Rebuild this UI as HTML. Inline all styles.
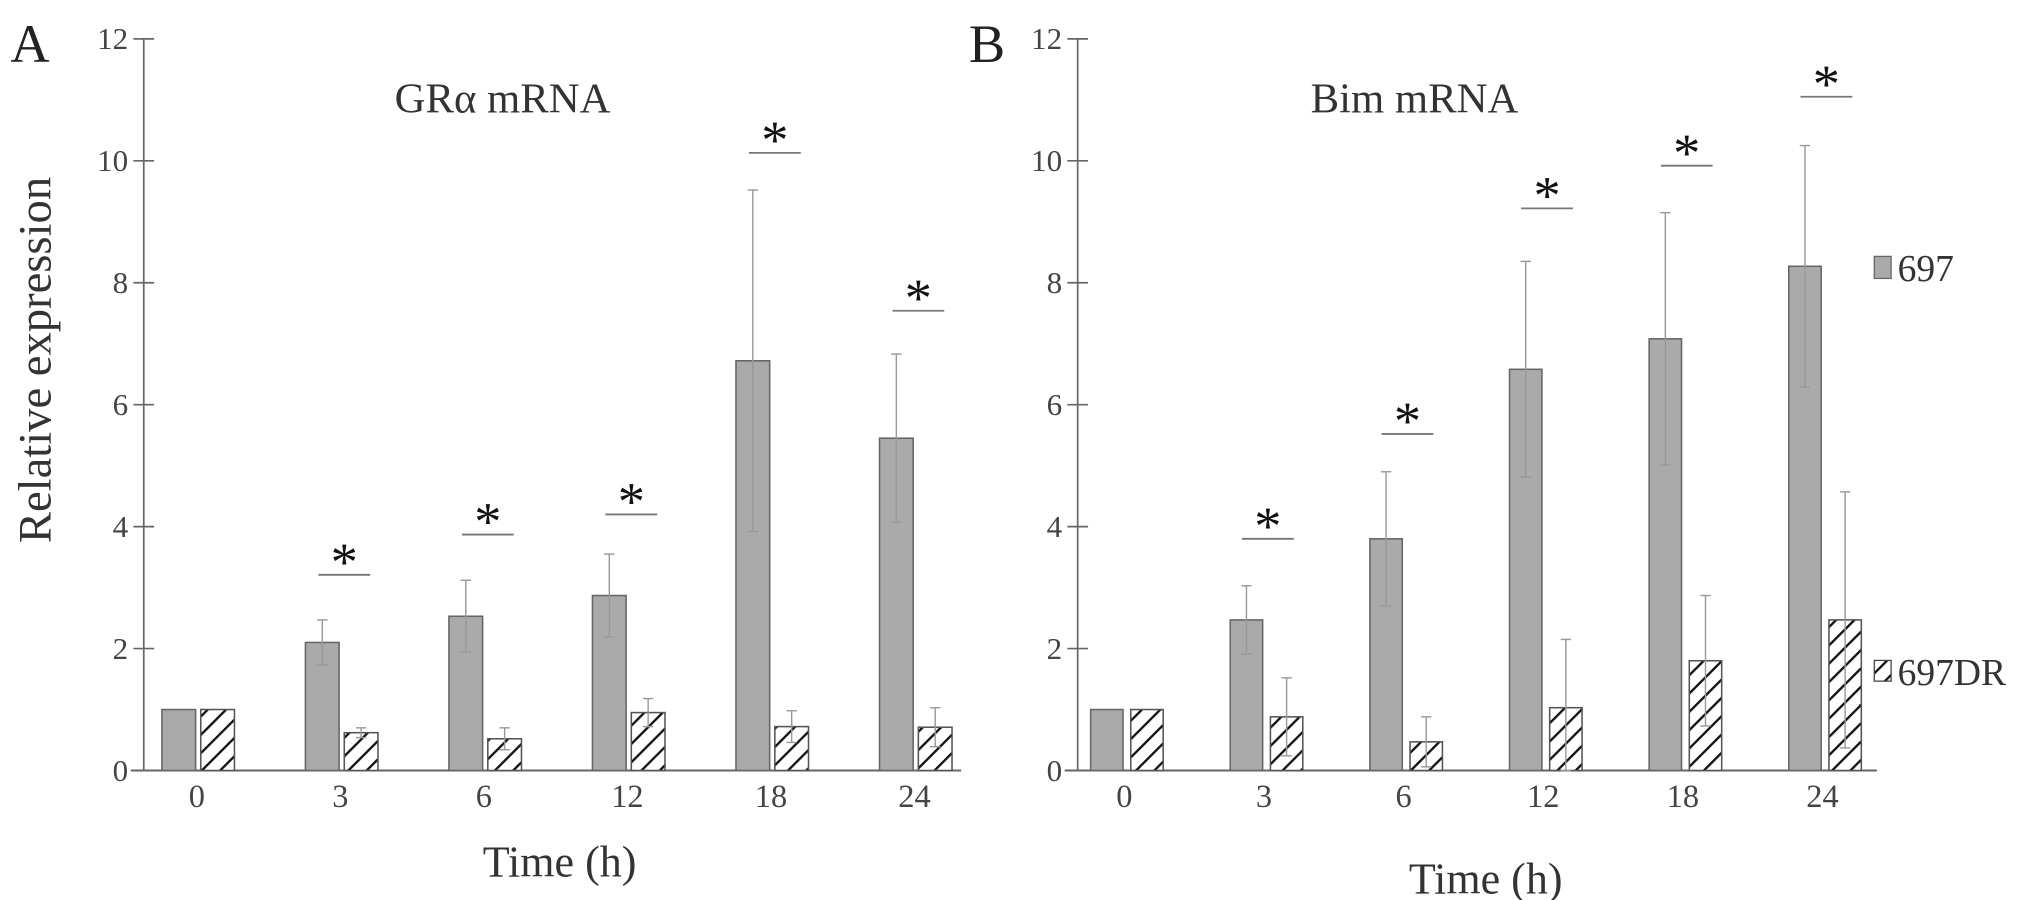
<!DOCTYPE html>
<html><head><meta charset="utf-8">
<style>
html,body{margin:0;padding:0;background:#fff;}
svg{display:block;font-family:"Liberation Serif",serif;}
</style></head>
<body>
<svg id="chart" width="2031" height="900" viewBox="0 0 1568 695" preserveAspectRatio="none" xmlns="http://www.w3.org/2000/svg">
<defs>
<pattern id="hatch" patternUnits="userSpaceOnUse" width="10" height="10" patternTransform="rotate(45)">
<rect width="10" height="10" fill="#fff"/>
<line x1="0" y1="0" x2="0" y2="10" stroke="#111" stroke-width="3.6"/>
</pattern>
</defs>
<g id="root"></g>
</svg>
<script>
const categories = ["0","3","6","12","18","24"];
const yTicks = [0,2,4,6,8,10,12];
const grGray = [1.0,2.1,2.53,2.87,6.72,5.45];
const grGrayErr = [0,0.37,0.59,0.68,2.8,1.38];
const grHatch = [1.0,0.62,0.52,0.95,0.72,0.71];
const grHatchErr = [0,0.08,0.18,0.23,0.26,0.32];
const grSig = [null,3.21,3.87,4.2,10.13,7.54];
const bimGray = [1.0,2.47,3.8,6.58,7.08,8.27];
const bimGrayErr = [0,0.56,1.1,1.77,2.07,1.98];
const bimHatch = [1.0,0.88,0.47,1.03,1.8,2.47];
const bimHatchErr = [0,0.64,0.41,1.12,1.07,2.1];
const bimSig = [null,3.8,5.52,9.22,9.92,11.05];

const NS="http://www.w3.org/2000/svg";
const root=document.getElementById('root');
function mk(tag,attrs,parent){const e=document.createElementNS(NS,tag);for(const k in attrs)e.setAttribute(k,attrs[k]);(parent||root).appendChild(e);return e;}
const Y0=595,UNIT=(595-30)/12;
function yS(v){return Y0-v*UNIT;}

function panel(cfg){
  const g=mk('g',{});
  
  
  const xS=i=>cfg.c0+i*cfg.step;
  const ya=mk('line',{x1:cfg.ax,y1:yS(12),x2:cfg.ax,y2:Y0,stroke:'#666','stroke-width':1.3},g);
  
  
  yTicks.forEach(t=>{
    const tk=mk('line',{x1:cfg.ax-8,y1:yS(t),x2:cfg.ax+8,y2:yS(t),stroke:'#666','stroke-width':1.3},g);
    
    
    const tl=mk('text',{x:cfg.ax-12,y:yS(t)+8,'text-anchor':'end','font-size':24,fill:'#444'},g);
    tl.textContent=t;
    
    
  });
  const xa=mk('line',{x1:cfg.ax-10,y1:Y0,x2:cfg.xend,y2:Y0,stroke:'#666','stroke-width':1.6},g);
  
  
  categories.forEach((c,i)=>{
    const cx=xS(i);
    const tl=mk('text',{x:cx,y:623,'text-anchor':'middle','font-size':25,fill:'#444'},g);
    tl.textContent=c;
    
    
    const gv=cfg.gray[i];
    const gb=mk('rect',{x:cx-cfg.w-1,y:yS(gv),width:cfg.w,height:Y0-yS(gv),fill:'#aaa',stroke:'#666','stroke-width':1.2},g);
    
    
    const hv=cfg.hatch[i];
    const hb=mk('rect',{x:cx+cfg.gap,y:yS(hv),width:cfg.w,height:Y0-yS(hv),fill:'url(#hatch)',stroke:'#555','stroke-width':1.2},g);
    
    
    [[cx-cfg.w/2-1,gv,cfg.gErr[i]],[cx+cfg.gap+cfg.w/2,hv,cfg.hErr[i]]].forEach(([ex,v,e])=>{
      if(!e)return;
      const eg=mk('g',{stroke:'#999','stroke-width':1.1},g);
      
      
      mk('line',{x1:ex,y1:yS(v+e),x2:ex,y2:yS(Math.max(v-e,0))},eg);
      mk('line',{x1:ex-4,y1:yS(v+e),x2:ex+4,y2:yS(v+e)},eg);
      mk('line',{x1:ex-4,y1:yS(Math.max(v-e,0)),x2:ex+4,y2:yS(Math.max(v-e,0))},eg);
    });
    const s=cfg.sig[i];
    if(s!=null){
      const sl=mk('line',{x1:cx-17,y1:yS(s),x2:cx+23,y2:yS(s),stroke:'#777','stroke-width':1.4},g);
      
      
      const st=mk('text',{x:cx+3,y:yS(s)+4,'text-anchor':'middle','font-size':42,fill:'#111'},g);
      st.textContent='*';
      
      
    }
  });
  const tt=mk('text',{x:cfg.tx,y:87,'text-anchor':'middle','font-size':33,fill:'#333'},g);
  tt.textContent=cfg.title;
  
  
  const xl=mk('text',{x:cfg.xlx,y:cfg.xly,'text-anchor':'middle','font-size':34,fill:'#333'},g);
  xl.textContent='Time (h)';
  
  
  const pl=mk('text',{x:cfg.lx,y:48,'font-size':42,fill:'#222'},g);
  pl.textContent=cfg.letter;
  
  
}
panel({name:'panel-a',ax:111,xend:742,c0:152,step:110.8,w:26,gap:3,gray:grGray,gErr:grGrayErr,hatch:grHatch,hErr:grHatchErr,sig:grSig,title:'GRα mRNA',tx:388,xlx:432,xly:677,letter:'A',lx:8});
panel({name:'panel-b',ax:832,xend:1449,c0:868,step:107.8,w:25,gap:5,gray:bimGray,gErr:bimGrayErr,hatch:bimHatch,hErr:bimHatchErr,sig:bimSig,title:'Bim mRNA',tx:1092,xlx:1147,xly:690,letter:'B',lx:748});

const yl=mk('text',{x:0,y:0,'text-anchor':'middle','font-size':36,fill:'#333',transform:'translate(39,278) rotate(-90)'});
yl.textContent='Relative expression';



const lg=mk('g',{});


const l1=mk('rect',{x:1447,y:198,width:13,height:17,fill:'#aaa',stroke:'#666','stroke-width':1},lg);


const t1=mk('text',{x:1465,y:217,'font-size':29,fill:'#333'},lg);
t1.textContent='697';


const l2=mk('rect',{x:1447,y:510,width:13,height:16,fill:'url(#hatch)',stroke:'#444','stroke-width':1},lg);


const t2=mk('text',{x:1465,y:529,'font-size':29,fill:'#333'},lg);
t2.textContent='697DR';


</script>
</body></html>
